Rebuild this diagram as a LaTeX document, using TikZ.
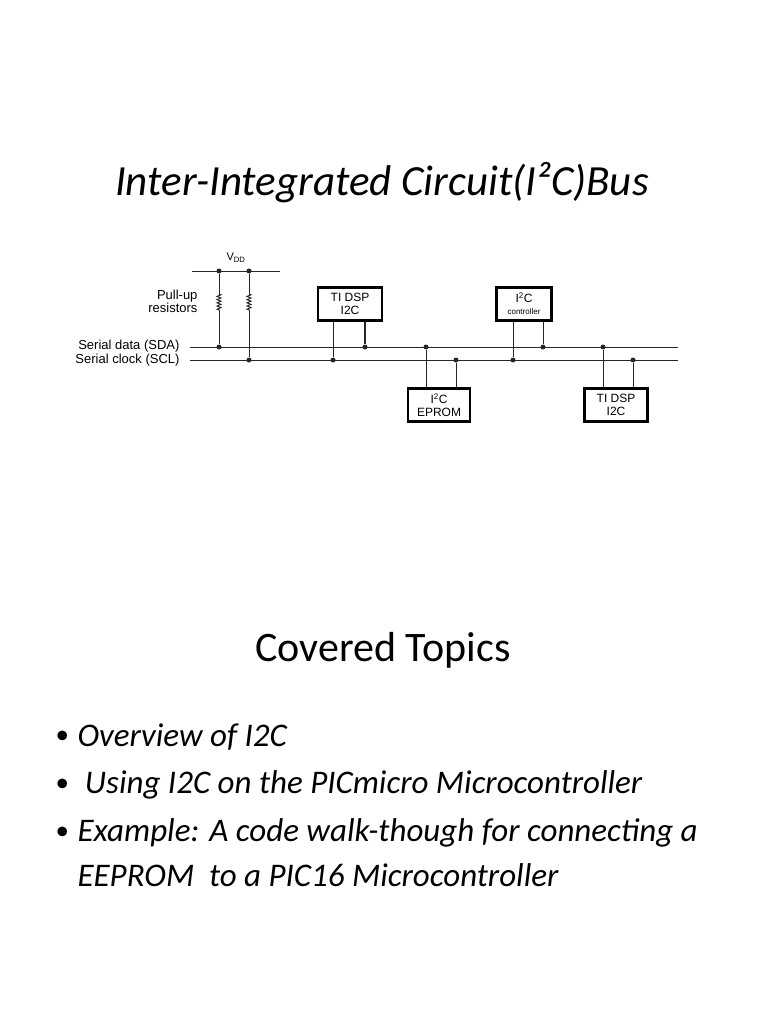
\documentclass[tikz,border=0pt]{standalone}
\usepackage{fontspec}
\setmainfont{Carlito}
\newfontfamily\arialf{Liberation Sans}
\usetikzlibrary{decorations.pathmorphing}
\begin{document}
\begin{tikzpicture}[x=1pt,y=-1pt,
  wire/.style={line width=1pt,draw=black!85},
  box/.style={draw,line width=2.2pt,minimum width=62pt,minimum height=33pt,align=center,font=\arialf\fontsize{12}{13}\selectfont,inner sep=1pt},
  dot/.style={circle,fill=black!85,inner sep=0pt,minimum size=5pt},
  lbl/.style={font=\arialf\fontsize{13}{12}\selectfont,anchor=east,align=right},
  bul/.style={anchor=west,font=\fontsize{33}{40}\selectfont\itshape}]
\useasboundingbox (0,0) rectangle (768,1024);
\node[font=\fontsize{43}{48}\selectfont\itshape] (title) at (382,183) {Inter-Integrated Circuit(I²C)Bus};
% bus
\coordinate (sdaL) at (190,347); \coordinate (sdaR) at (678,347);
\coordinate (sclL) at (190,360); \coordinate (sclR) at (678,360);
\draw[wire] (sdaL)--(sdaR); \draw[wire] (sclL)--(sclR);
\node[lbl] (sdal) at (183,346) {Serial data (SDA)};
\node[lbl] (scll) at (183,360) {Serial clock (SCL)};
% VDD
\coordinate (vL) at (192,271); \coordinate (vR) at (280,271);
\draw[wire] (vL)--(vR);
\node[font=\arialf\fontsize{11}{12}\selectfont] (vdd) at (236,258) {V\textsubscript{DD}};
\node[lbl] (pu) at (201,301) {Pull-up\\resistors};
\foreach \x/\y [count=\i] in {219/347,249/360}{
  \node[dot] (vt\i) at (\x,271) {};
  \node[dot] (vb\i) at (\x,\y) {};
  \coordinate (ra\i) at (\x,294); \coordinate (rb\i) at (\x,310);
  \draw[wire] (vt\i)--(ra\i);
  \draw[wire,decorate,decoration={zigzag,amplitude=2pt,segment length=3.2pt}] (ra\i)--(rb\i);
  \draw[wire] (rb\i)--(vb\i);
}
% devices
\node[box,minimum width=64pt] (d1) at (350,304) {TI DSP\\I2C};
\node[box] (d2) at (439,405) {I\textsuperscript{2}C\\EPROM};
\node[box,minimum width=55pt] (d3) at (524,304) {I\textsuperscript{2}C\\[-1pt]{\fontsize{8}{9}\selectfont controller}};
\node[box,minimum width=63pt] (d4) at (616,405) {TI DSP\\I2C};
\node[dot] (p1) at (333,360) {}; \draw[wire] (d1.south -| p1)--(p1);
\node[dot] (p2) at (365,347) {}; \draw[wire,line width=1.6pt] (d1.south -| p2)--(p2);
\node[dot] (p3) at (426,347) {}; \draw[wire] (d2.north -| p3)--(p3);
\node[dot] (p4) at (456,360) {}; \draw[wire] (d2.north -| p4)--(p4);
\node[dot] (p5) at (513,360) {}; \draw[wire] (d3.south -| p5)--(p5);
\node[dot] (p6) at (543,347) {}; \draw[wire] (d3.south -| p6)--(p6);
\node[dot] (p7) at (603,347) {}; \draw[wire] (d4.north -| p7)--(p7);
\node[dot] (p8) at (633,360) {}; \draw[wire] (d4.north -| p8)--(p8);
% topics
\node[font=\fontsize{42}{48}\selectfont] (cov) at (383,650) {Covered Topics};
\node[anchor=west,font=\fontsize{27}{34}\selectfont] (b1) at (52,737) {•};
\node[bul] (t1) at (74,737) {Overview of I2C};
\node[anchor=west,font=\fontsize{27}{34}\selectfont] (b2) at (52,785) {•};
\node[bul] (t2) at (74,785) {\ Using I2C on the PICmicro Microcontroller};
\node[anchor=west,font=\fontsize{27}{34}\selectfont] (b3) at (52,833) {•};
\node[bul] (t3) at (74,833) {Example: A code walk-though for connecting a};
\node[bul] (t4) at (74,875) {EEPROM\ \ to a PIC16 Microcontroller};
\end{tikzpicture}
\end{document}
